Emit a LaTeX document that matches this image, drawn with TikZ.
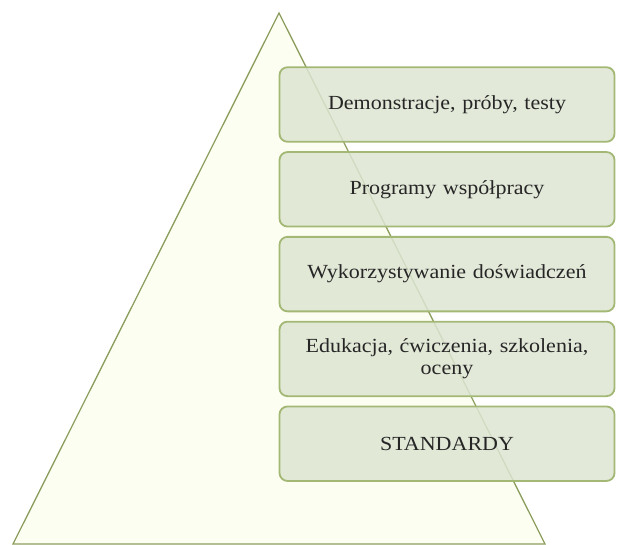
\documentclass[tikz,border=0pt]{standalone}
\usepackage{fontspec}
\setmainfont{Liberation Serif}[FakeStretch=1.1]
\usetikzlibrary{positioning}

\definecolor{pyrline}{HTML}{8C9E5E}
\definecolor{pyrfill}{HTML}{FDFEF2}
\definecolor{boxline}{HTML}{A3B874}
\definecolor{boxfill}{HTML}{DDE5D2}

\begin{document}
\begin{tikzpicture}[x=1pt,y=1pt,node distance=8.5pt,
  stage/.style={draw=boxline,line width=1.8pt,fill=boxfill,fill opacity=0.85,text opacity=1,
    rounded corners=8pt,minimum width=335pt,minimum height=74.5pt,inner sep=2pt,
    text width=320pt,align=center,font=\fontsize{20}{22.5}\selectfont,text=black!85}]
  \useasboundingbox (0,0) rectangle (617,544);
  % pyramid
  \draw[pyrline,fill=pyrfill,line width=1.3pt] (13,0) -- (279,531) -- (545,0) -- cycle;
  % levels
  \node[stage] (b1) at (447,439.5) {Demonstracje, próby, testy};
  \node[stage] (b2) [below=of b1] {Programy współpracy};
  \node[stage] (b3) [below=of b2] {Wykorzystywanie doświadczeń};
  \node[stage] (b4) [below=of b3] {Edukacja, ćwiczenia, szkolenia,\\oceny};
  \node[stage] (b5) [below=of b4] {STANDARDY};
\end{tikzpicture}
\end{document}
